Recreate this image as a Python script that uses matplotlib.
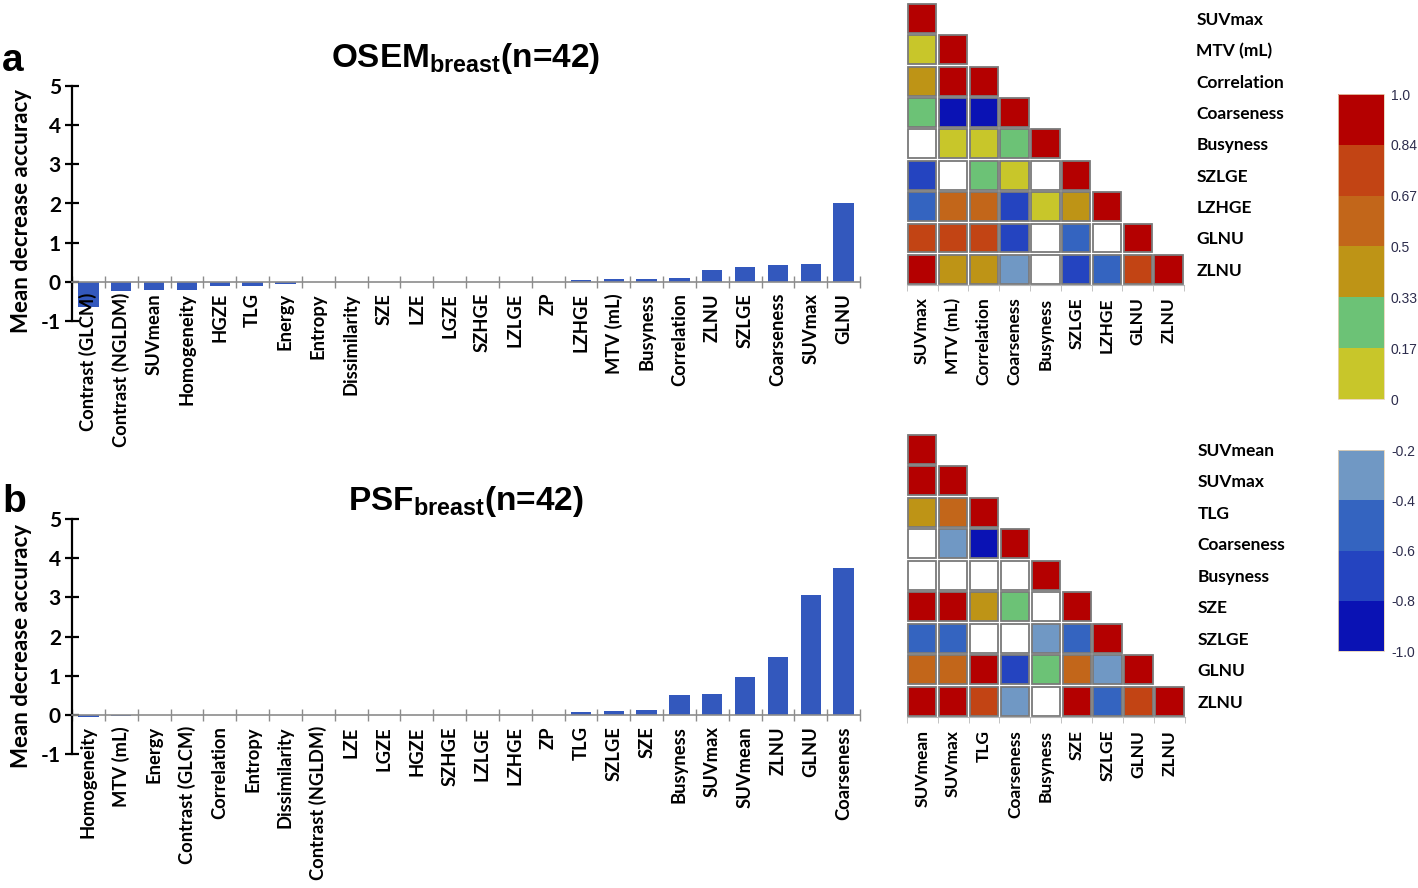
import numpy as np
import matplotlib.pyplot as plt
from matplotlib.colors import ListedColormap, BoundaryNorm
from matplotlib.patches import Rectangle
from matplotlib.cm import ScalarMappable

plt.rcParams['font.family'] = ['Lato', 'DejaVu Sans']
plt.rcParams['mathtext.fontset'] = 'custom'
plt.rcParams['mathtext.bf'] = 'Liberation Sans:bold'
plt.rcParams['mathtext.rm'] = 'Liberation Sans'
plt.rcParams['axes.unicode_minus'] = False

nan = np.nan

# --- panel a: OSEM ---
osem_labels = ['Contrast (GLCM)', 'Contrast (NGLDM)', 'SUVmean', 'Homogeneity', 'HGZE', 'TLG',
               'Energy', 'Entropy', 'Dissimilarity', 'SZE', 'LZE', 'LGZE', 'SZHGE', 'LZLGE',
               'ZP', 'LZHGE', 'MTV (mL)', 'Busyness', 'Correlation', 'ZLNU', 'SZLGE',
               'Coarseness', 'SUVmax', 'GLNU']
osem_values = [-0.65, -0.23, -0.2, -0.2, -0.1, -0.1, -0.06, 0, 0, 0, 0, 0, 0, 0,
               0, 0.04, 0.07, 0.07, 0.1, 0.3, 0.37, 0.42, 0.45, 2.01]

# --- panel b: PSF ---
psf_labels = ['Homogeneity', 'MTV (mL)', 'Energy', 'Contrast (GLCM)', 'Correlation', 'Entropy',
              'Dissimilarity', 'Contrast (NGLDM)', 'LZE', 'LGZE', 'HGZE', 'SZHGE', 'LZLGE',
              'LZHGE', 'ZP', 'TLG', 'SZLGE', 'SZE', 'Busyness', 'SUVmax', 'SUVmean', 'ZLNU',
              'GLNU', 'Coarseness']
psf_values = [-0.05, -0.02, 0, 0, 0, 0, 0, 0, 0, 0, 0, 0, 0,
              0, 0, 0.08, 0.1, 0.12, 0.51, 0.55, 0.97, 1.49, 3.07, 3.74]

# correlation matrices (lower triangle, nan = not significant)
osem_corr_names = ['SUVmax', 'MTV (mL)', 'Correlation', 'Coarseness', 'Busyness', 'SZLGE',
                   'LZHGE', 'GLNU', 'ZLNU']
osem_corr = [
    [1.0],
    [0.10, 1.0],
    [0.45, 0.95, 1.0],
    [0.25, -0.9, -0.9, 1.0],
    [nan, 0.10, 0.10, 0.25, 1.0],
    [-0.7, nan, 0.25, 0.10, nan, 1.0],
    [-0.5, 0.6, 0.6, -0.7, 0.10, 0.45, 1.0],
    [0.75, 0.75, 0.75, -0.7, nan, -0.5, nan, 1.0],
    [0.9, 0.45, 0.45, -0.3, nan, -0.7, -0.5, 0.75, 1.0],
]

psf_corr_names = ['SUVmean', 'SUVmax', 'TLG', 'Coarseness', 'Busyness', 'SZE', 'SZLGE',
                  'GLNU', 'ZLNU']
psf_corr = [
    [1.0],
    [0.95, 1.0],
    [0.45, 0.6, 1.0],
    [nan, -0.3, -0.9, 1.0],
    [nan, nan, nan, nan, 1.0],
    [0.9, 0.9, 0.45, 0.25, nan, 1.0],
    [-0.5, -0.5, nan, nan, -0.3, -0.5, 1.0],
    [0.6, 0.6, 0.9, -0.7, 0.25, 0.6, -0.3, 1.0],
    [0.9, 0.9, 0.75, -0.3, nan, 0.9, -0.5, 0.75, 1.0],
]

pos_bounds = [0, 0.17, 0.33, 0.5, 0.67, 0.84, 1.0]
pos_ticklabels = ['0', '0.17', '0.33', '0.5', '0.67', '0.84', '1.0']
pos_colors = ['#C8C62A', '#6CC276', '#BE9416', '#C2661A', '#C24414', '#B40000']
neg_bounds = [-1.0, -0.8, -0.6, -0.4, -0.2]
neg_ticklabels = ['-1.0', '-0.8', '-0.6', '-0.4', '-0.2']
neg_colors = ['#0A12B4', '#2444C0', '#3464C0', '#7098C4']

W, H = 1418, 888
fig = plt.figure(figsize=(W / 100, H / 100), dpi=100)


def px(x0, y0, x1, y1):
    # pixel box -> figure fraction rect
    return [x0 / W, 1 - y1 / H, (x1 - x0) / W, (y1 - y0) / H]


def cell_color(v):
    if np.isnan(v):
        return 'white'
    if v >= 0:
        k = min(np.searchsorted(pos_bounds, v, side='right') - 1, len(pos_colors) - 1)
        return pos_colors[k]
    k = min(np.searchsorted(neg_bounds, v, side='right') - 1, len(neg_colors) - 1)
    return neg_colors[k]


def bar_panel(rect, labels, values, title, letter, title_y, letter_y, ylab_y):
    ax = fig.add_axes(rect)
    x = np.arange(len(labels))
    ax.bar(x, values, width=0.62, color='#3358BD', zorder=1)
    ax.set_xlim(-0.5, len(labels) - 0.5)
    ax.set_ylim(-1, 5)
    ax.spines[['top', 'right']].set_visible(False)
    ax.spines['bottom'].set_position(('data', 0))
    ax.spines['bottom'].set_color('#8c8c8c')
    ax.spines['bottom'].set_linewidth(1.2)
    ax.spines['left'].set_linewidth(1.6)
    ax.set_yticks(range(-1, 6))
    ax.tick_params(axis='y', direction='inout', length=10, width=1.6, labelsize=15, pad=3)
    for t in ax.get_yticklabels():
        t.set_fontweight('bold')
    ax.set_xticks(x, labels, rotation=90, fontweight='bold', fontsize=13.2)
    ax.set_xticks(np.arange(len(labels) + 1) - 0.5, minor=True)
    ax.tick_params(axis='x', which='major', length=0, pad=8)
    ax.tick_params(axis='x', which='minor', direction='inout', length=8, color='#8c8c8c', width=1)
    ax.set_ylabel('Mean decrease accuracy', fontweight='bold', fontsize=16)
    ax.yaxis.set_label_coords(-0.051, ylab_y)
    fig.text(466 / W, 1 - title_y / H, title, ha='center', va='baseline',
             fontsize=24, fontweight='bold', family='Liberation Sans')
    fig.text(2 / W, 1 - letter_y / H, letter, ha='left', va='baseline',
             fontsize=28, fontweight='bold', family='Liberation Sans')


def corr_panel(rect, names, rows):
    ax = fig.add_axes(rect)
    n = len(names)
    for i, row in enumerate(rows):
        for j, v in enumerate(row):
            ax.add_patch(Rectangle((j + 0.04, i + 0.04), 0.92, 0.92, facecolor=cell_color(v),
                                   edgecolor='#7a7a7a', lw=1.3))
    ax.set_xlim(0, n)
    ax.set_ylim(n, 0)
    ax.spines[['top', 'right', 'left']].set_visible(False)
    ax.spines['bottom'].set_color('#b8b8b8')
    ax.set_xticks(np.arange(n) + 0.5, names, rotation=90, fontweight='bold', fontsize=12.5)
    ax.set_xticks(np.arange(n + 1), minor=True)
    ax.tick_params(axis='x', which='major', length=0, pad=9)
    ax.tick_params(axis='x', which='minor', length=4, color='#b8b8b8')
    ax.yaxis.tick_right()
    ax.set_yticks(np.arange(n) + 0.5, names, fontweight='bold', fontsize=12.5)
    ax.tick_params(axis='y', length=0, pad=9)


def colorbar(rect, bounds, colors, ticklabels):
    cax = fig.add_axes(rect)
    sm = ScalarMappable(norm=BoundaryNorm(bounds, len(colors)), cmap=ListedColormap(colors))
    cb = fig.colorbar(sm, cax=cax, ticks=bounds)
    cb.set_ticklabels(ticklabels)
    cb.outline.set_edgecolor('#e6d2b4')
    cb.outline.set_linewidth(0.6)
    cax.tick_params(length=0, labelsize=10, labelcolor='#2c2c4c', pad=5)
    for t in cax.get_yticklabels():
        t.set_family('Liberation Sans')


bar_panel(px(72, 86, 860, 321), osem_labels, osem_values,
          r'OSEM$_{\mathbf{breast}}$(n=42)', 'a', 67, 71, 0.466)
bar_panel(px(72, 519, 860, 754.3), psf_labels, psf_values,
          r'PSF$_{\mathbf{breast}}$(n=42)', 'b', 510, 512, 0.462)

corr_panel(px(906.7, 2.7, 1184, 285), osem_corr_names, osem_corr)
corr_panel(px(906.7, 433.3, 1185, 717.3), psf_corr_names, psf_corr)

colorbar(px(1338, 94, 1384, 399), pos_bounds, pos_colors, pos_ticklabels)
colorbar(px(1338, 450, 1384, 651), neg_bounds, neg_colors, neg_ticklabels)

fig.savefig('out.png', dpi=100)
